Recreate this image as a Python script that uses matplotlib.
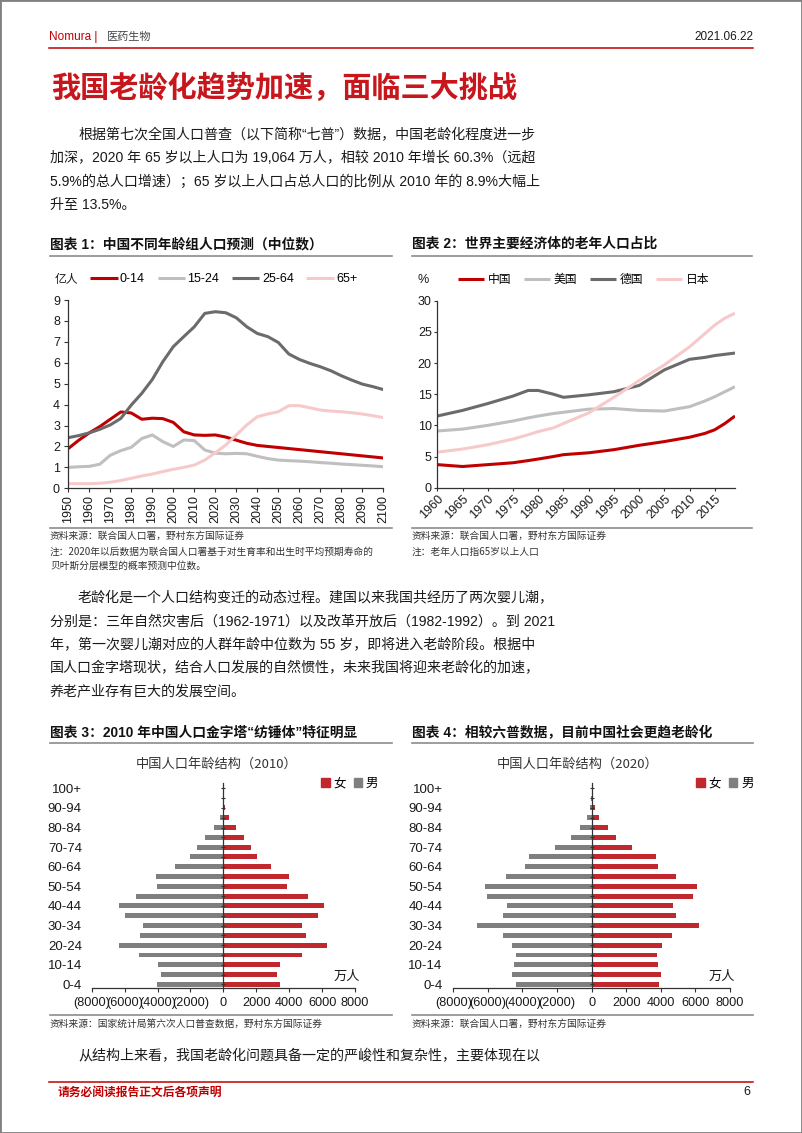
import numpy as np
import matplotlib
matplotlib.use("Agg")
import matplotlib.pyplot as plt
from matplotlib.patches import Rectangle, Patch
from matplotlib.lines import Line2D
from matplotlib.ticker import FuncFormatter

plt.rcParams['font.family'] = ['Liberation Sans', 'Noto Sans CJK SC']
plt.rcParams['axes.unicode_minus'] = False

# ---- 图表1 数据（亿人）----
years1 = list(range(1950, 2101, 5))
age_0_14 = [1.90, 2.30, 2.65, 2.95, 3.30, 3.65, 3.60, 3.30, 3.35, 3.33, 3.15, 2.70, 2.55, 2.53, 2.55, 2.45,
            2.30, 2.15, 2.05, 2.00, 1.95, 1.90, 1.85, 1.80, 1.75, 1.70, 1.65, 1.60, 1.55, 1.50, 1.45]
age_15_24 = [1.00, 1.03, 1.05, 1.15, 1.58, 1.80, 1.96, 2.38, 2.55, 2.23, 2.00, 2.31, 2.28, 1.83, 1.68, 1.65,
             1.67, 1.65, 1.53, 1.42, 1.35, 1.32, 1.30, 1.27, 1.23, 1.20, 1.16, 1.13, 1.10, 1.07, 1.03]
age_25_64 = [2.42, 2.52, 2.65, 2.82, 3.03, 3.34, 3.98, 4.54, 5.20, 6.05, 6.77, 7.25, 7.72, 8.36, 8.44, 8.39,
             8.15, 7.72, 7.40, 7.25, 6.97, 6.42, 6.16, 5.97, 5.81, 5.62, 5.38, 5.17, 4.98, 4.86, 4.72]
age_65p = [0.22, 0.22, 0.22, 0.24, 0.29, 0.37, 0.48, 0.59, 0.68, 0.80, 0.91, 1.00, 1.11, 1.35, 1.70, 2.07,
           2.55, 3.03, 3.42, 3.55, 3.66, 3.95, 3.95, 3.85, 3.74, 3.69, 3.66, 3.61, 3.55, 3.47, 3.38]
labels1 = ['0-14', '15-24', '25-64', '65+']

# ---- 图表2 数据（%）----
years2 = [1960, 1965, 1970, 1975, 1978, 1980, 1983, 1985, 1990, 1995, 2000, 2005, 2010, 2013, 2015, 2017, 2019]
china = [3.7, 3.4, 3.7, 4.0, 4.35, 4.6, 5.0, 5.3, 5.6, 6.1, 6.8, 7.4, 8.1, 8.7, 9.3, 10.3, 11.5]
usa = [9.1, 9.4, 10.0, 10.7, 11.2, 11.5, 11.9, 12.1, 12.6, 12.7, 12.4, 12.3, 13.0, 13.9, 14.6, 15.4, 16.2]
germany = [11.5, 12.4, 13.5, 14.7, 15.6, 15.6, 15.0, 14.5, 14.9, 15.4, 16.4, 18.9, 20.6, 20.9, 21.2, 21.4, 21.6]
japan = [5.7, 6.2, 6.9, 7.8, 8.5, 9.0, 9.6, 10.3, 12.0, 14.5, 17.2, 19.7, 22.6, 24.7, 26.1, 27.2, 28.0]
labels2 = ['中国', '美国', '德国', '日本']

# ---- 图表3/4 数据（万人）----
ages = ['0-4', '5-9', '10-14', '15-19', '20-24', '25-29', '30-34', '35-39', '40-44', '45-49', '50-54',
        '55-59', '60-64', '65-69', '70-74', '75-79', '80-84', '85-89', '90-94', '95-99', '100+']
male_2010 = [4050, 3800, 3990, 5120, 6360, 5060, 4900, 5990, 6320, 5320, 4010,
             4090, 2960, 2020, 1620, 1110, 570, 200, 40, 10, 1]
female_2010 = [3440, 3240, 3440, 4800, 6320, 5000, 4760, 5770, 6110, 5160, 3850,
               4010, 2870, 2020, 1660, 1250, 750, 360, 100, 20, 3]
male_2020 = [4390, 4600, 4510, 4390, 4590, 5110, 6610, 5110, 4910, 6070, 6180,
             4950, 3870, 3600, 2120, 1190, 670, 270, 80, 20, 3]
female_2020 = [3910, 4030, 3850, 3800, 4080, 4620, 6200, 4860, 4680, 5840, 6070,
               4860, 3850, 3720, 2350, 1410, 920, 440, 170, 40, 6]

RED = '#C00000'
TITLE_RED = '#C8161D'
LGRAY = '#BFBFBF'
DGRAY = '#6B6B6B'
PINK = '#F6CACB'
BAR_RED = '#C0282D'
BAR_GRAY = '#7F7F7F'
SEP = '#8C8C8C'
CJK = ['Noto Sans CJK SC', 'DejaVu Sans']

W, H = 802, 1133
fig = plt.figure(figsize=(W / 100, H / 100), dpi=100)


def fx(x):
    return x / W


def fy(y):
    return 1 - y / H


def put(x, y, s, **kw):
    kw.setdefault('va', 'center')
    fig.text(fx(x), fy(y), s, **kw)


def hline(x0, x1, y, color, lw):
    fig.add_artist(Line2D([fx(x0), fx(x1)], [fy(y), fy(y)], transform=fig.transFigure, color=color, lw=lw))


def axes_px(l, t, r, b):
    return fig.add_axes([fx(l), fy(b), (r - l) / W, (b - t) / H])


def style(ax):
    for s in ['top', 'right']:
        ax.spines[s].set_visible(False)
    for s in ['left', 'bottom']:
        ax.spines[s].set_color('#333333')
        ax.spines[s].set_linewidth(0.9)
    ax.tick_params(colors='#333333', labelcolor='#1a1a1a', width=0.8)
    ax.set_facecolor('none')


# 页面边框与页眉
fig.add_artist(Rectangle((0, 0), 1, 1, transform=fig.transFigure, fill=False, edgecolor='#808080', lw=2))
put(49, 37, 'Nomura |', color=RED, fontsize=8.5)
put(107, 37, '医药生物', color='#444444', fontsize=8, family=CJK)
put(753, 37, '2021.06.22', color='#1a1a1a', fontsize=8.5, ha='right')
hline(49, 753, 48.3, RED, 1.1)

put(51, 88, '我国老龄化趋势加速，面临三大挑战', color=TITLE_RED, fontsize=21, fontweight='bold', family=CJK)

body = dict(fontsize=10.1, color='#1a1a1a')
para1 = ['根据第七次全国人口普查（以下简称“七普”）数据，中国老龄化程度进一步',
         '加深，2020 年 65 岁以上人口为 19,064 万人，相较 2010 年增长 60.3%（远超',
         '5.9%的总人口增速）；65 岁以上人口占总人口的比例从 2010 年的 8.9%大幅上',
         '升至 13.5%。']
for i, line in enumerate(para1):
    put(78 if i == 0 else 50, 135 + i * 23.3, line, **body)

# 图表标题与分隔线
ctitle = dict(fontsize=9.9, fontweight='bold', color='#111111')
put(50, 244, '图表 1：中国不同年龄组人口预测（中位数）', **ctitle)
put(412, 244, '图表 2：世界主要经济体的老年人口占比', **ctitle)
hline(50, 392, 256, SEP, 1.2)
hline(412, 752, 256, SEP, 1.2)
hline(50, 392, 528.3, SEP, 1.2)
hline(412, 752, 528.3, SEP, 1.2)

# ---- 图表1 ----
ax1 = axes_px(68.3, 300, 383.3, 488.3)
for vals, c in zip([age_0_14, age_15_24, age_25_64, age_65p], [RED, LGRAY, DGRAY, PINK]):
    ax1.plot(years1, vals, color=c, lw=2.2, solid_capstyle='butt')
ax1.set_xlim(1950, 2100)
ax1.set_ylim(0, 9)
ax1.set_xticks(range(1950, 2101, 10))
ax1.set_yticks(range(0, 10))
style(ax1)
ax1.tick_params(axis='x', rotation=90, labelsize=9, length=3, pad=2)
ax1.tick_params(axis='y', labelsize=9, length=3, pad=3)
ax1.legend(ax1.get_lines(), labels1, loc='center left', bbox_to_anchor=(fx(90), fy(279)),
           bbox_transform=fig.transFigure, ncol=4, frameon=False, handlelength=2.2, handletextpad=0.2,
           columnspacing=1.0, borderpad=0, borderaxespad=0, fontsize=9)
put(55, 279, '亿人', fontsize=8.5, color='#1a1a1a', family=CJK)

# ---- 图表2 ----
ax2 = axes_px(437.3, 300.7, 735, 487.7)
for vals, c in zip([china, usa, germany, japan], [RED, LGRAY, DGRAY, PINK]):
    ax2.plot(years2, vals, color=c, lw=2.2, solid_capstyle='butt')
ax2.set_xlim(1960, 2019)
ax2.set_ylim(0, 30)
ax2.set_xticks(range(1960, 2016, 5))
ax2.set_yticks(range(0, 31, 5))
style(ax2)
ax2.tick_params(axis='x', labelsize=9, length=2, pad=2)
ax2.tick_params(axis='y', labelsize=9, length=2, pad=2)
for t in ax2.get_xticklabels():
    t.set_rotation(45)
    t.set_ha('right')
    t.set_rotation_mode('anchor')
ax2.legend(ax2.get_lines(), labels2, loc='center left', bbox_to_anchor=(fx(458), fy(280)),
           bbox_transform=fig.transFigure, ncol=4, frameon=False, handlelength=2.2, handletextpad=0.3,
           columnspacing=1.1, borderpad=0, borderaxespad=0, fontsize=8.5)
put(417, 280, '%', fontsize=9, color='#1a1a1a')

# 资料来源与注释
src = dict(fontsize=7.0, color='#333333', family=CJK)
put(50, 536, '资料来源：联合国人口署，野村东方国际证券', **src)
put(50, 551.5, '注：2020年以后数据为联合国人口署基于对生育率和出生时平均预期寿命的', **src)
put(50, 566, '贝叶斯分层模型的概率预测中位数。', **src)
put(412, 536, '资料来源：联合国人口署，野村东方国际证券', **src)
put(412, 551.5, '注：老年人口指65岁以上人口', **src)

para2 = ['老龄化是一个人口结构变迁的动态过程。建国以来我国共经历了两次婴儿潮，',
         '分别是：三年自然灾害后（1962-1971）以及改革开放后（1982-1992）。到 2021',
         '年，第一次婴儿潮对应的人群年龄中位数为 55 岁，即将进入老龄阶段。根据中',
         '国人口金字塔现状，结合人口发展的自然惯性，未来我国将迎来老龄化的加速，',
         '养老产业存有巨大的发展空间。']
for i, line in enumerate(para2):
    put(78 if i == 0 else 50, 598.5 + i * 23.2, line, **body)

put(50, 733, '图表 3：2010 年中国人口金字塔“纺锤体”特征明显', **ctitle)
put(412, 733, '图表 4：相较六普数据，目前中国社会更趋老龄化', **ctitle)
hline(50, 392, 743.3, SEP, 1.2)
hline(412, 753, 743.3, SEP, 1.2)
hline(50, 392, 1015, SEP, 1.2)
hline(412, 753, 1015, SEP, 1.2)


def paren(v, pos):
    return '({:.0f})'.format(-v) if v < 0 else '{:.0f}'.format(v)


def pyramid(l, r, zero_x, label_right, male, female, title, cx):
    ax = axes_px(l, 783.4, r, 988.3)
    y = np.arange(len(ages))
    ax.barh(y, [-m for m in male], height=0.5, color=BAR_GRAY)
    ax.barh(y, female, height=0.5, color=BAR_RED)
    ax.set_xlim(-8000, 8000)
    ax.set_ylim(-0.4, 20.5)
    style(ax)
    ax.spines['left'].set_position(('data', 0))
    ax.set_xticks(range(-8000, 8001, 2000))
    ax.xaxis.set_major_formatter(FuncFormatter(paren))
    ax.set_yticks(y)
    ax.set_yticklabels([a if i % 2 == 0 else '' for i, a in enumerate(ages)])
    ax.tick_params(axis='x', labelsize=9.2, length=3, pad=3)
    pad_pt = (zero_x - label_right) * 0.72 - 1
    ax.tick_params(axis='y', labelsize=9.5, length=3, direction='inout', pad=pad_pt)
    put(cx, 764, title, fontsize=9.5, color='#333333', ha='center', family=CJK)
    handles = [Patch(color=BAR_RED), Patch(color=BAR_GRAY)]
    ax.legend(handles, ['女', '男'], loc='center left', bbox_to_anchor=(fx(r - 34), fy(784)),
              bbox_transform=fig.transFigure, ncol=2, frameon=False, handlelength=0.7, handleheight=0.7,
              handletextpad=0.3, columnspacing=0.6, borderpad=0, borderaxespad=0, fontsize=9)
    put(r - 8, 976, '万人', fontsize=9.5, color='#1a1a1a', ha='center', family=CJK)
    return ax


pyramid(91.7, 355, 223.3, 82.5, male_2010, female_2010, '中国人口年龄结构（2010）', 217)
pyramid(453.3, 730, 591.7, 443.3, male_2020, female_2020, '中国人口年龄结构（2020）', 578)

put(50, 1024, '资料来源：国家统计局第六次人口普查数据，野村东方国际证券', **src)
put(412, 1024, '资料来源：联合国人口署，野村东方国际证券', **src)

put(78, 1056, '从结构上来看，我国老龄化问题具备一定的严峻性和复杂性，主要体现在以', **body)
hline(49, 753, 1082.3, RED, 1.1)
put(58, 1092, '请务必阅读报告正文后各项声明', color=RED, fontsize=8.5, fontweight='bold', family=CJK)
put(750, 1092, '6', color='#1a1a1a', fontsize=9, ha='right')

fig.savefig('out.png', dpi=100)
